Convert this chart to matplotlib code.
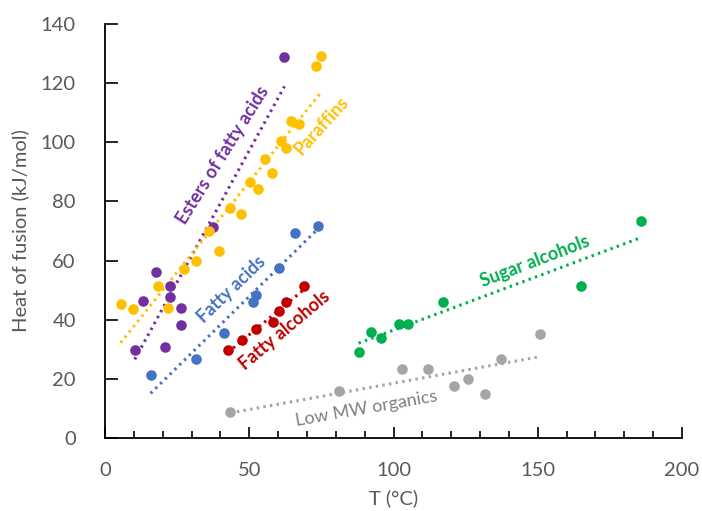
import matplotlib
matplotlib.use("Agg")
import matplotlib.pyplot as plt
import numpy as np
from matplotlib.ticker import MultipleLocator

plt.rcParams['font.family'] = ['Lato', 'DejaVu Sans']

# melting point (°C) and heat of fusion (kJ/mol)
paraffin_T = [5.4, 9.7, 18.2, 21.9, 27.3, 31.7, 35.9, 39.4, 43.4, 47.1,
              50.1, 53.0, 55.4, 58.0, 61.0, 62.9, 64.6, 67.1, 73.3, 75.0]
paraffin_H = [45.4, 43.5, 51.3, 44.1, 57.0, 59.8, 69.9, 63.4, 77.7, 75.9,
              86.7, 84.3, 94.5, 89.6, 100.4, 98.1, 107.1, 106.3, 125.7, 129.3]

ester_T = [10.3, 13.3, 17.6, 20.8, 22.6, 22.6, 26.2, 26.2, 37.6, 62.2]
ester_H = [29.7, 46.4, 56.0, 30.8, 51.3, 47.8, 44.1, 38.1, 71.2, 128.7]

fatty_acid_T = [15.8, 31.7, 41.4, 51.2, 52.5, 60.4, 66.0, 73.8]
fatty_acid_H = [21.2, 26.7, 35.6, 45.9, 48.2, 57.5, 69.4, 71.6]

fatty_alc_T = [42.6, 47.6, 52.5, 58.1, 60.4, 62.9, 69.0]
fatty_alc_H = [29.7, 33.2, 36.9, 39.3, 42.9, 45.9, 51.3]

sugar_T = [87.9, 92.1, 95.8, 102.0, 104.9, 117.3, 164.9, 185.7]
sugar_H = [29.2, 35.7, 33.9, 38.6, 38.6, 45.9, 51.3, 73.5]

lowmw_T = [43.4, 81.2, 103.1, 111.8, 121.0, 125.7, 131.8, 137.4, 150.9]
lowmw_H = [8.7, 15.8, 23.2, 23.2, 17.7, 20.0, 14.8, 26.8, 35.2]

groups = [
    # label, T, H, colour, label pos, angle, bold
    ("Esters of fatty acids", ester_T, ester_H, "#7030A0", (40.9, 95.5), 58, True),
    ("Paraffins", paraffin_T, paraffin_H, "#FFC000", (74.9, 105.5), 48, True),
    ("Fatty acids", fatty_acid_T, fatty_acid_H, "#4472C4", (43.7, 50.1), 44, True),
    ("Fatty alcohols", fatty_alc_T, fatty_alc_H, "#C00000", (62.4, 36.5), 40, True),
    ("Sugar alcohols", sugar_T, sugar_H, "#00B050", (148.9, 59.9), 21, True),
    ("Low MW organics", lowmw_T, lowmw_H, "#A5A5A5", (90.5, 9.8), 10, False),
]

fig = plt.figure(figsize=(7.02, 5.11), dpi=100)
ax = fig.add_axes([0.1496, 0.1429, 0.8219, 0.8101])

for name, T, H, col, pos, ang, bold in groups:
    T = np.array(T); H = np.array(H)
    ax.scatter(T, H, s=58, color=col, zorder=3, linewidths=0)
    k, b = np.polyfit(T, H, 1)
    xs = np.array([T.min(), T.max()])
    ax.plot(xs, k * xs + b, color=col, lw=2.2, ls=(0, (0.8, 1.4)), zorder=2)
    tcol = "#808080" if not bold else col
    ax.text(pos[0], pos[1], name, color=tcol, rotation=ang, fontsize=13,
            fontweight="bold" if bold else "normal",
            ha="center", va="center", rotation_mode="anchor")

ax.set_xlim(0, 200)
ax.set_ylim(0, 140)
ax.xaxis.set_major_locator(MultipleLocator(50))
ax.xaxis.set_minor_locator(MultipleLocator(10))
ax.yaxis.set_major_locator(MultipleLocator(20))

for s in ["top", "right"]:
    ax.spines[s].set_visible(False)
for s in ["left", "bottom"]:
    ax.spines[s].set_linewidth(1.3)
    ax.spines[s].set_color("black")

ax.tick_params(axis="x", which="major", direction="in", length=8, width=1.2,
               labelsize=14.5, labelcolor="#595959", pad=17)
ax.tick_params(axis="x", which="minor", direction="in", length=5, width=1.2)
ax.tick_params(axis="y", which="major", direction="in", length=9, width=1.2,
               labelsize=14.5, labelcolor="#595959", pad=21)

ax.set_xlabel("T (°C)", fontsize=14.5, color="#595959", labelpad=8)
ax.set_ylabel("Heat of fusion (kJ/mol)", fontsize=14.5, color="#595959", labelpad=8)

fig.savefig("out.png", dpi=100)
